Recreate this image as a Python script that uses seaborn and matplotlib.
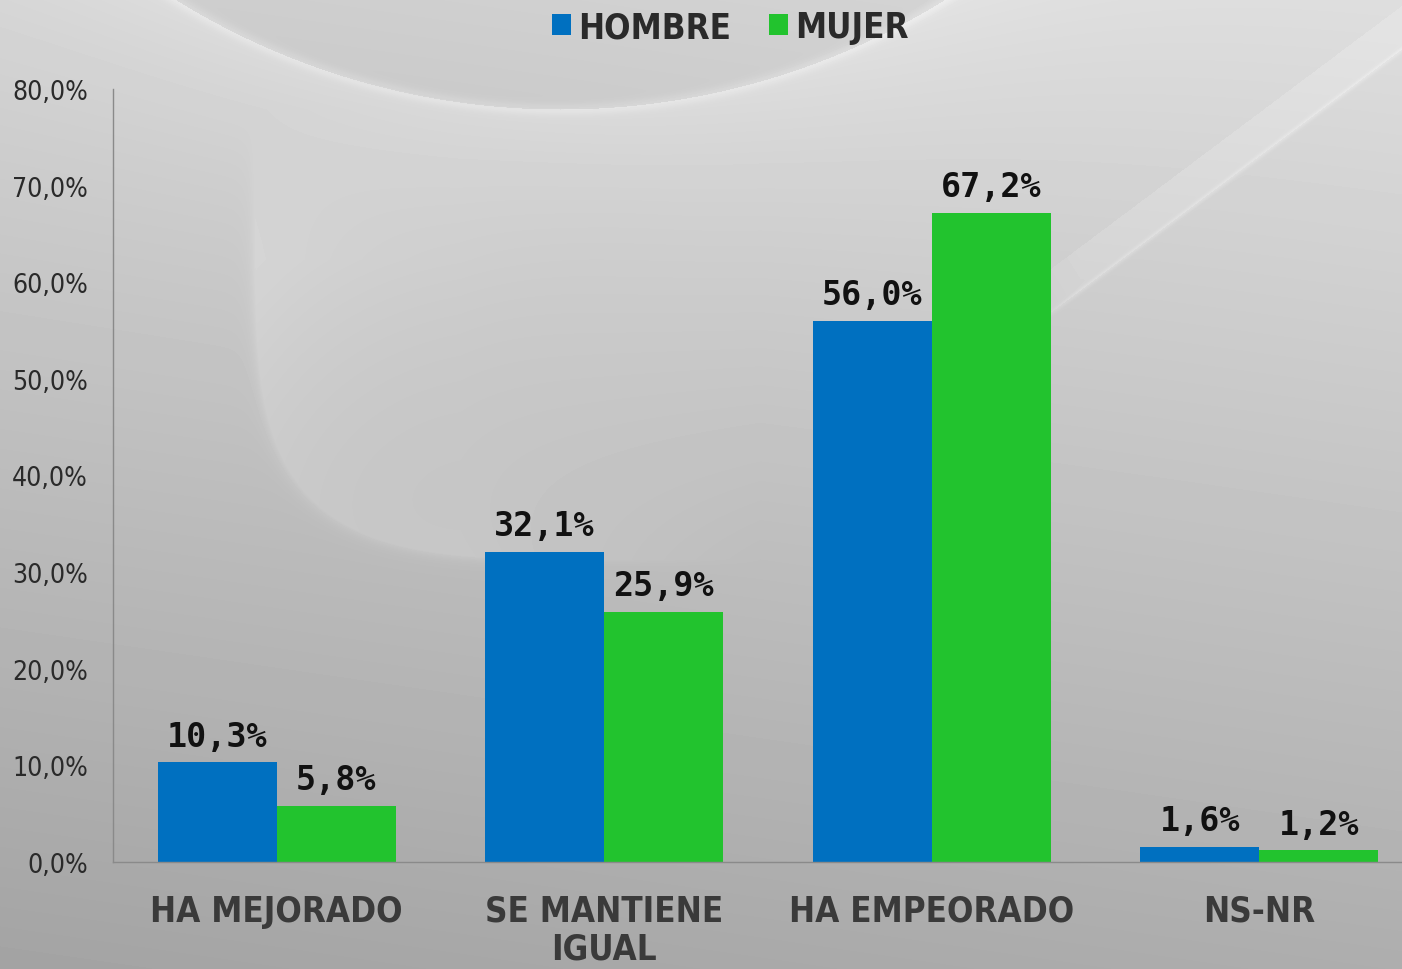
import numpy as np
import pandas as pd
import seaborn as sns
import matplotlib.pyplot as plt
from matplotlib import font_manager

# Data
categories = ["HA MEJORADO", "SE MANTIENE\nIGUAL", "HA EMPEORADO", "NS-NR"]
hombre = [10.3, 32.1, 56.0, 1.6]
mujer = [5.8, 25.9, 67.2, 1.2]
series = ["HOMBRE", "MUJER"]
yticks = [0, 10, 20, 30, 40, 50, 60, 70, 80]

colors = {"HOMBRE": "#0070c0", "MUJER": "#22c32e"}

sns.set_theme(style="white")

# pick a narrow family if we have one
names = {f.name for f in font_manager.fontManager.ttflist}
if "Liberation Sans Narrow" in names:
    narrow = ["Liberation Sans Narrow", "DejaVu Sans"]
    stretch = "normal"
else:
    narrow = ["DejaVu Sans"]
    stretch = "condensed"
plt.rcParams["font.family"] = narrow

df = pd.DataFrame({
    "cat": categories * 2,
    "val": hombre + mujer,
    "sexo": [series[0]] * len(categories) + [series[1]] * len(categories),
})

W, H = 1402, 970
fig = plt.figure(figsize=(W / 100, H / 100), dpi=100)

# --- gray swirl background ---
yy, xx = np.mgrid[0:H, 0:W].astype(float)
bg = 0.83 - 0.19 * (yy / H) + 0.04 * (xx / W)
# bowl at the top
d = np.hypot(xx - 560, yy + 620)
r = 730
bg -= 0.03 * (d < r)
bg += 0.04 * np.exp(-((d - r) / 6) ** 2)
bg += 0.03 * np.exp(-np.clip(d - r, 0, None) / 90) * (d > r)
# light sheet left of centre (rounded-square edge)
f = np.abs((xx - 640) / 385) ** 4 + np.abs((yy - 210) / 350) ** 4
sd = (f ** 0.25 - 1) * 350
inside = sd < 0
sheet = np.where(inside, 0.045 * np.exp(sd / 140), 0.045 * np.exp(-sd / 5))
sheet *= np.clip((760 - xx) / 300, 0, 1) * np.clip((yy - 110) / 150, 0, 1)
bg += sheet
# diagonal light band upper right
p0 = np.array([1400.0, 20.0]); p1 = np.array([1040.0, 290.0])
n = np.array([-(p1 - p0)[1], (p1 - p0)[0]]); n /= np.linalg.norm(n)
dist = (xx - p0[0]) * n[0] + (yy - p0[1]) * n[1]
band = 0.025 * ((dist > -25) & (dist < 10)) + 0.035 * np.exp(-((dist + 25) / 2.5) ** 2)
band *= np.clip((xx - 1000) / 80, 0, 1)
bg += band
bg = np.clip(bg, 0, 1)

bax = fig.add_axes([0, 0, 1, 1], zorder=-1)
bax.imshow(bg, cmap="gray", vmin=0, vmax=1, aspect="auto", extent=(0, W, H, 0))
bax.axis("off")

# --- main chart ---
ax = fig.add_axes([113 / W, 107 / H, 1310 / W, 773 / H])
ax.patch.set_alpha(0)
sns.barplot(data=df, x="cat", y="val", hue="sexo", palette=colors,
            width=0.727, saturation=1, linewidth=0, ax=ax, legend=True)

for cont in ax.containers:
    ax.bar_label(cont, labels=[f"{v:.1f}%".replace(".", ",") for v in cont.datavalues],
                 padding=7, fontsize=24, fontweight="bold", color="#111111",
                 family="DejaVu Sans Mono")

ax.set_xlim(-0.5, 3.5)
ax.set_ylim(0, 80)
ax.set_yticks(yticks)
ax.set_yticklabels([f"{v:.1f}%".replace(".", ",") for v in yticks],
                   fontsize=19, color="#2a2a2a", fontstretch=stretch)
ax.set_xticks(range(len(categories)))
ax.set_xticklabels(categories, fontsize=25, fontweight="bold", color="#3a3a3a",
                   linespacing=1.15, fontstretch=stretch)
ax.tick_params(axis="y", length=0, pad=18)
ax.tick_params(axis="x", length=0, pad=23)
ax.set_xlabel("")
ax.set_ylabel("")

for s in ["top", "right"]:
    ax.spines[s].set_visible(False)
ax.spines["left"].set_color("#8a8a8a")
ax.spines["left"].set_linewidth(1.0)
ax.spines["bottom"].set_color("#8a8a8a")
ax.spines["bottom"].set_linewidth(1.0)

handles, labels = ax.get_legend_handles_labels()
ax.legend(handles, labels, loc="center", bbox_to_anchor=(0.521, 0.971),
          bbox_transform=fig.transFigure, ncol=2, frameon=False,
          handlelength=0.55, handleheight=0.55, handletextpad=0.2,
          columnspacing=1.1,
          prop={"size": 25, "weight": "bold", "family": narrow, "stretch": stretch},
          labelcolor="#2a2a2a")

plt.savefig("out.png", dpi=100)
